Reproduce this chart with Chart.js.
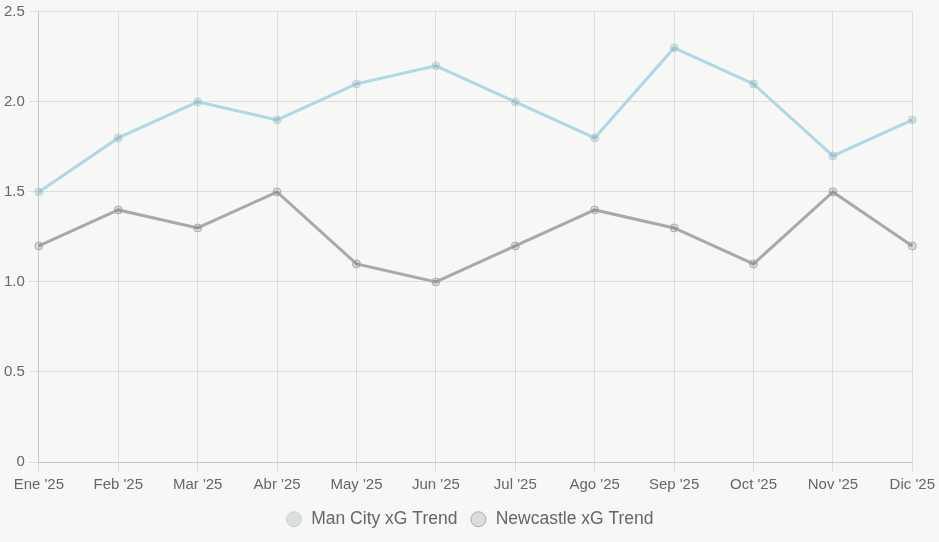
<!DOCTYPE html>
<html>
<head>
<meta charset="utf-8">
<script src="https://cdn.jsdelivr.net/npm/chart.js@4"></script>
<style>
  html, body { margin: 0; padding: 0; background: #f7f7f5; }
  #wrap { width: 939px; height: 542px; }
</style>
</head>
<body>
<div id="wrap"><canvas id="xgChart"></canvas></div>
<script>
const months = ["Ene '25", "Feb '25", "Mar '25", "Abr '25", "May '25", "Jun '25", "Jul '25", "Ago '25", "Sep '25", "Oct '25", "Nov '25", "Dic '25"];
const manCityXg = [1.5, 1.8, 2.0, 1.9, 2.1, 2.2, 2.0, 1.8, 2.3, 2.1, 1.7, 1.9];
const newcastleXg = [1.2, 1.4, 1.3, 1.5, 1.1, 1.0, 1.2, 1.4, 1.3, 1.1, 1.5, 1.2];

Chart.defaults.font.family = "'Liberation Sans', Arial, sans-serif";
Chart.defaults.color = "#666";

new Chart(document.getElementById("xgChart"), {
  type: "line",
  data: {
    labels: months,
    datasets: [{
      label: "Man City xG Trend",
      data: manCityXg,
      borderColor: "#add8e6",
      backgroundColor: "rgba(0, 0, 0, 0.1)",
      pointBackgroundColor: "rgba(0, 0, 0, 0.1)",
      borderWidth: 3,
      pointRadius: 4,
      pointBorderWidth: 1,
      tension: 0
    }, {
      label: "Newcastle xG Trend",
      data: newcastleXg,
      borderColor: "#a9a9a9",
      backgroundColor: "rgba(0, 0, 0, 0.1)",
      pointBackgroundColor: "rgba(0, 0, 0, 0.1)",
      borderWidth: 3,
      pointRadius: 4,
      pointBorderWidth: 1,
      tension: 0
    }]
  },
  options: {
    responsive: true,
    maintainAspectRatio: false,
    animation: false,
    layout: { padding: { bottom: 4 } },
    plugins: {
      legend: {
        position: "bottom",
        labels: { usePointStyle: true, pointStyle: "circle", boxWidth: 17, boxHeight: 10.6, padding: 12.5, font: { size: 17.5 }, color: "#666" }
      }
    },
    scales: {
      x: {
        grid: { color: "rgba(0, 0, 0, 0.1)", tickLength: 10 },
        ticks: { font: { size: 15 }, color: "#666", padding: 4 }
      },
      y: {
        min: 0,
        max: 2.5,
        grid: { color: "rgba(0, 0, 0, 0.1)", tickLength: 10 },
        ticks: { stepSize: 0.5, font: { size: 15, lineHeight: 1.05 }, color: "#666", padding: 4 }
      }
    }
  }
});
</script>
</body>
</html>
